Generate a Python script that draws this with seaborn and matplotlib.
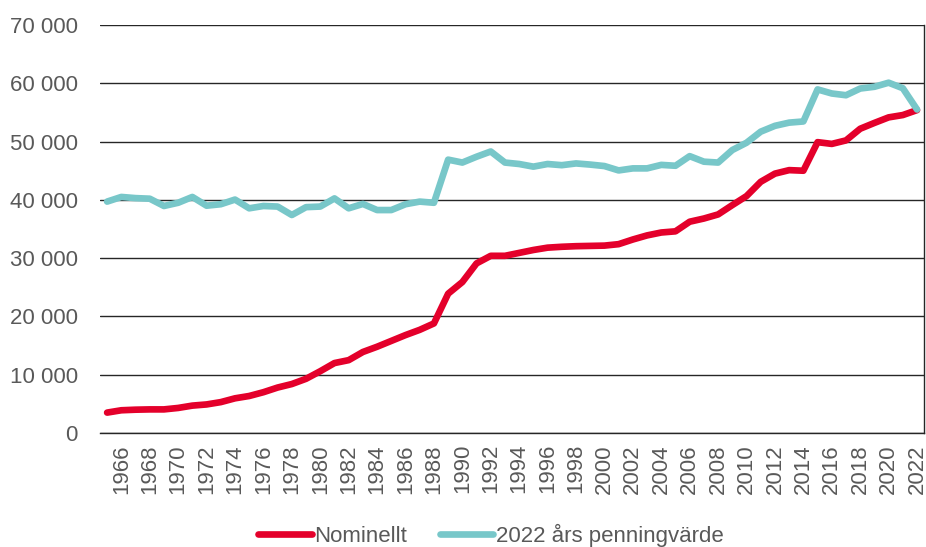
import pandas as pd
import matplotlib.pyplot as plt
import seaborn as sns

# values, 1965-2022
years = list(range(1965, 2023))
nominellt = [3500, 3900, 4000, 4050, 4050, 4300, 4700, 4900, 5300, 5950,
             6350, 7000, 7800, 8400, 9300, 10600, 12000, 12500, 13900, 14800,
             15800, 16800, 17700, 18800, 23900, 25900, 29100, 30400, 30400, 30900,
             31400, 31800, 31950, 32050, 32100, 32150, 32400, 33200, 33900, 34400,
             34600, 36250, 36800, 37500, 39100, 40650, 43100, 44500, 45100, 45000,
             49900, 49600, 50200, 52200, 53200, 54150, 54550, 55400]
penningvarde = [39700, 40500, 40300, 40200, 38950, 39500, 40500, 39000, 39250, 40050,
                38550, 38950, 38850, 37400, 38750, 38850, 40250, 38550, 39300, 38250,
                38250, 39250, 39700, 39500, 46900, 46400, 47400, 48300, 46400, 46150,
                45700, 46150, 45950, 46250, 46050, 45800, 45050, 45400, 45400, 46000,
                45850, 47500, 46550, 46400, 48550, 49800, 51700, 52700, 53250, 53450,
                58950, 58250, 57950, 59100, 59400, 60100, 59150, 55500]
series_names = ['Nominellt', '2022 års penningvärde']
colors = ['#E4002B', '#78C7C9']

df = pd.DataFrame({
    'year': years * 2,
    'value': nominellt + penningvarde,
    'serie': [series_names[0]] * len(years) + [series_names[1]] * len(years),
})

sns.set_style('white')
plt.rcParams['font.family'] = ['Liberation Sans', 'DejaVu Sans']

fig = plt.figure(figsize=(9.26, 5.47), dpi=100)
ax = fig.add_axes([0.108, 0.2084, 0.89, 0.7459])

sns.lineplot(data=df, x='year', y='value', hue='serie', palette=colors,
             linewidth=4.8, ax=ax, legend=True,
             solid_capstyle='round', solid_joinstyle='round')

ax.set_xlim(1964.5, 2022.5)
ax.set_ylim(0, 70000)
ax.set_yticks(range(0, 70001, 10000))
ax.set_yticklabels([f'{v:,}'.replace(',', ' ') for v in range(0, 70001, 10000)])
ax.set_xticks(years[1::2])
ax.set_xticklabels([str(y) for y in years[1::2]], rotation=90)
ax.tick_params(axis='both', length=0, labelsize=16, colors='#595959')
ax.tick_params(axis='y', pad=16)
ax.tick_params(axis='x', pad=8)
ax.grid(axis='y', color='#262626', linewidth=1.0)
ax.set_axisbelow(True)
ax.set_xlabel('')
ax.set_ylabel('')

for side in ['left', 'top']:
    ax.spines[side].set_visible(False)
for side in ['right', 'bottom']:
    ax.spines[side].set_color('#262626')
    ax.spines[side].set_linewidth(1.0)

handles, labels = ax.get_legend_handles_labels()
ax.get_legend().remove()
fig.legend(handles, labels, loc='center', bbox_to_anchor=(0.53, 0.022),
           ncol=2, frameon=False, fontsize=16, labelcolor='#595959',
           handlelength=2.4, handletextpad=0.1, columnspacing=1.5)

fig.savefig('out.png', dpi=100)
